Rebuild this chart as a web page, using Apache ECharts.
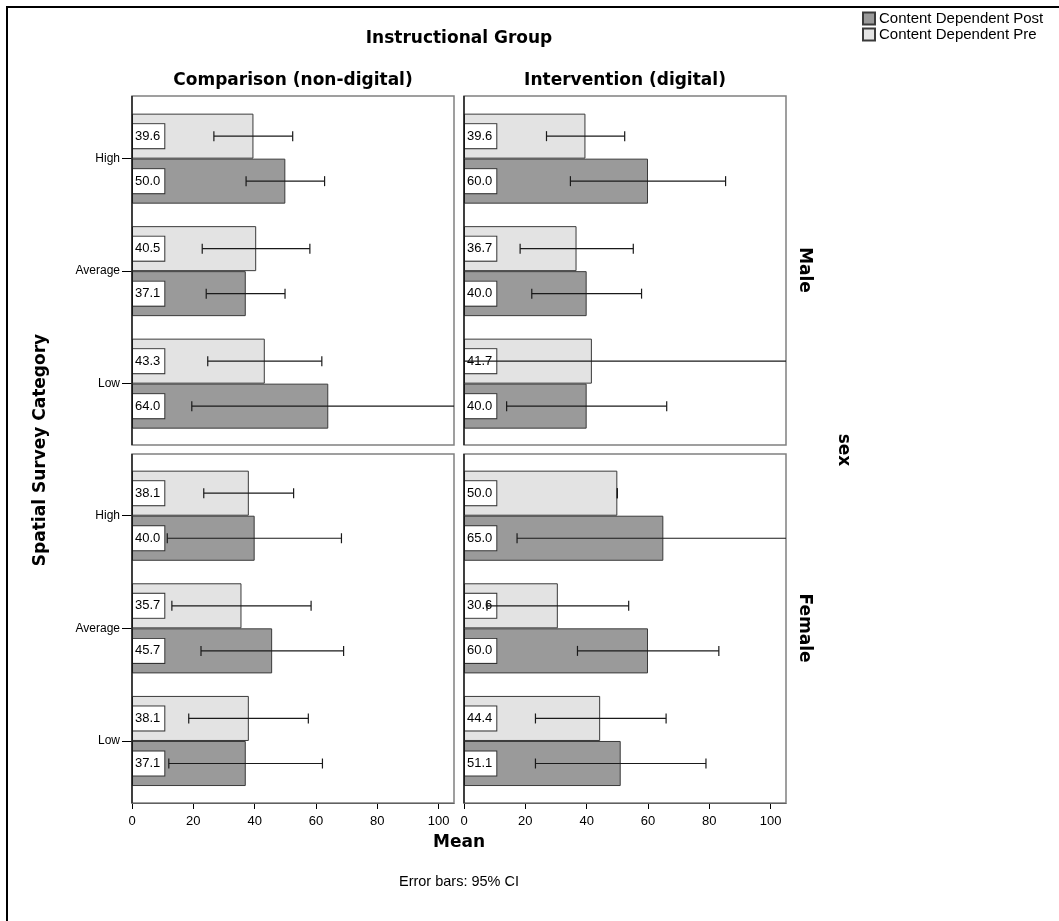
<!DOCTYPE html>
<html>
<head>
<meta charset="utf-8">
<script src="https://cdn.jsdelivr.net/npm/echarts@6.0.0/dist/echarts.min.js"></script>
<style>
html,body{margin:0;padding:0;background:#fff;}
#chart{width:1059px;height:921px;}
</style>
</head>
<body>
<div id="chart"></div>
<script>
// ---- data ----
const categories = ['High', 'Average', 'Low'];
const xTicks = [0, 20, 40, 60, 80, 100];
const seriesNames = ['Content Dependent Post', 'Content Dependent Pre'];
const columnTitles = ['Comparison (non-digital)', 'Intervention (digital)'];
const rowTitles = ['Male', 'Female'];

// means (High, Average, Low)
const preMaleComp = [39.6, 40.5, 43.3];
const postMaleComp = [50.0, 37.1, 64.0];
const preMaleInt = [39.6, 36.7, 41.7];
const postMaleInt = [60.0, 40.0, 40.0];
const preFemComp = [38.1, 35.7, 38.1];
const postFemComp = [40.0, 45.7, 37.1];
const preFemInt = [50.0, 30.6, 44.4];
const postFemInt = [65.0, 60.0, 51.1];

// 95% CI [lower, upper] (High, Average, Low)
const ciPreMaleComp = [[26.7, 52.4], [22.9, 58.0], [24.7, 61.9]];
const ciPostMaleComp = [[37.2, 62.8], [24.2, 49.9], [19.5, 108.5]];
const ciPreMaleInt = [[26.9, 52.4], [18.3, 55.2], [-24.3, 107.7]];
const ciPostMaleInt = [[34.7, 85.3], [22.1, 57.9], [13.9, 66.1]];
const ciPreFemComp = [[23.4, 52.7], [13.0, 58.4], [18.5, 57.5]];
const ciPostFemComp = [[11.5, 68.3], [22.5, 69.0], [12.0, 62.1]];
const ciPreFemInt = [[50.0, 50.0], [7.5, 53.7], [23.3, 65.9]];
const ciPostFemInt = [[17.3, 112.7], [37.0, 83.1], [23.3, 78.9]];

// ---- layout ----
const REG = 'Liberation Sans, Arial, sans-serif';
const BOLD = 'DejaVu Sans, sans-serif';
const PRE_COLOR = '#e3e3e3', POST_COLOR = '#9a9a9a', EDGE = '#3a3a3a';
const colX = [{left: 132, width: 322}, {left: 464, width: 322}];
const rowY = [{frameTop: 96, frameBottom: 445, top: 102.4, height: 337.5},
              {frameTop: 454, frameBottom: 803, top: 459.4, height: 337.9}];

const panels = [
  {row: 0, col: 0, pre: preMaleComp, post: postMaleComp, ciPre: ciPreMaleComp, ciPost: ciPostMaleComp},
  {row: 0, col: 1, pre: preMaleInt, post: postMaleInt, ciPre: ciPreMaleInt, ciPost: ciPostMaleInt},
  {row: 1, col: 0, pre: preFemComp, post: postFemComp, ciPre: ciPreFemComp, ciPost: ciPostFemComp},
  {row: 1, col: 1, pre: preFemInt, post: postFemInt, ciPre: ciPreFemInt, ciPost: ciPostFemInt}
];

const grids = [], xAxes = [], yAxes = [], series = [], graphics = [];

function errRender(params, api) {
  const lo = api.value(0), hi = api.value(1), cat = api.value(2), which = api.value(3);
  const c = api.coord([0, cat]);
  const band = Math.abs(api.size([0, 1])[1]);
  const y = c[1] + (which === 0 ? -1 : 1) * band * 0.2;
  const cs = params.coordSys;
  const minX = cs.x, maxX = cs.x + cs.width;
  const x1 = api.coord([lo, cat])[0], x2 = api.coord([hi, cat])[0];
  const cx1 = Math.max(minX, Math.min(maxX, x1)), cx2 = Math.max(minX, Math.min(maxX, x2));
  const st = {stroke: '#1a1a1a', lineWidth: 1.2};
  const ch = [{type: 'line', shape: {x1: cx1, y1: y, x2: cx2, y2: y}, style: st}];
  const capH = 5;
  if (x1 >= minX && x1 <= maxX) ch.push({type: 'line', shape: {x1: x1, y1: y - capH, x2: x1, y2: y + capH}, style: st});
  if (x2 >= minX && x2 <= maxX) ch.push({type: 'line', shape: {x1: x2, y1: y - capH, x2: x2, y2: y + capH}, style: st});
  return {type: 'group', children: ch};
}

const labelCfg = {
  show: true, position: 'insideLeft', distance: 1,
  formatter: p => Number(p.value).toFixed(1),
  fontFamily: REG, fontSize: 13, color: '#000',
  backgroundColor: '#fff', borderColor: '#333', borderWidth: 1,
  padding: [6, 4, 5, 2]
};

panels.forEach((p, i) => {
  const cx = colX[p.col], ry = rowY[p.row];
  grids.push({left: cx.left, top: ry.top, width: cx.width, height: ry.height, containLabel: false});
  const isBottom = p.row === 1;
  xAxes.push({
    type: 'value', gridIndex: i, min: 0, max: 105, interval: 20,
    offset: isBottom ? (ry.frameBottom - ry.top - ry.height) : 0,
    axisLine: {show: isBottom, lineStyle: {color: '#000', width: 1}},
    axisTick: {show: isBottom, length: 6, lineStyle: {color: '#000'}, customValues: xTicks},
    axisLabel: {show: isBottom, customValues: xTicks, fontFamily: REG, fontSize: 13, color: '#000', margin: 12},
    splitLine: {show: false}
  });
  yAxes.push({
    type: 'category', gridIndex: i, data: categories, inverse: true,
    axisLine: {show: false},
    axisTick: {show: p.col === 0, alignWithLabel: true, length: 10, lineStyle: {color: '#000'}},
    axisLabel: {show: p.col === 0, fontFamily: REG, fontSize: 12, color: '#000', margin: 12},
    splitLine: {show: false}
  });
  series.push({
    name: seriesNames[1], type: 'bar', xAxisIndex: i, yAxisIndex: i, data: p.pre,
    barCategoryGap: '20%', barGap: '0%',
    itemStyle: {color: PRE_COLOR, borderColor: EDGE, borderWidth: 1},
    label: labelCfg, z: 2, animation: false
  });
  series.push({
    name: seriesNames[0], type: 'bar', xAxisIndex: i, yAxisIndex: i, data: p.post,
    barCategoryGap: '20%', barGap: '0%',
    itemStyle: {color: POST_COLOR, borderColor: EDGE, borderWidth: 1},
    label: labelCfg, z: 2, animation: false
  });
  const errData = [];
  p.ciPre.forEach((ci, k) => errData.push([ci[0], ci[1], k, 0]));
  p.ciPost.forEach((ci, k) => errData.push([ci[0], ci[1], k, 1]));
  series.push({
    type: 'custom', xAxisIndex: i, yAxisIndex: i, data: errData,
    encode: {x: [0, 1], y: 2}, renderItem: errRender, z: 10, silent: true, animation: false
  });
  // panel frame
  graphics.push({type: 'rect', shape: {x: cx.left, y: ry.frameTop, width: cx.width, height: ry.frameBottom - ry.frameTop},
    style: {fill: 'none', stroke: '#808080', lineWidth: 1.5}, z: 1, silent: true});
  graphics.push({type: 'line', shape: {x1: cx.left, y1: ry.frameTop, x2: cx.left, y2: ry.frameBottom},
    style: {stroke: '#000', lineWidth: 1.2}, z: 20, silent: true});
});

// texts
function txt(text, x, y, font, size, weight, rot) {
  return {type: 'text', x: x, y: y, rotation: rot || 0, silent: true, z: 30,
    style: {text: text, fontFamily: font, fontSize: size, fontWeight: weight, fill: '#000', align: 'center', verticalAlign: 'middle'}};
}
graphics.push({type: 'rect', shape: {x: 7, y: 7, width: 1200, height: 1000}, style: {fill: 'none', stroke: '#000', lineWidth: 2}, silent: true, z: 0});
graphics.push(txt('Instructional Group', 459, 39, BOLD, 17, 'bold'));
graphics.push(txt(columnTitles[0], 293, 81, BOLD, 17, 'bold'));
graphics.push(txt(columnTitles[1], 625, 81, BOLD, 17, 'bold'));
graphics.push(txt(rowTitles[0], 804, 270, BOLD, 17, 'bold', -Math.PI / 2));
graphics.push(txt(rowTitles[1], 804, 628, BOLD, 17, 'bold', -Math.PI / 2));
graphics.push(txt('sex', 843, 450, BOLD, 17, 'bold', -Math.PI / 2));
graphics.push(txt('Spatial Survey Category', 41, 450, BOLD, 17, 'bold', Math.PI / 2));
graphics.push(txt('Mean', 459, 843, BOLD, 17, 'bold'));
graphics.push(txt('Error bars: 95% CI', 459, 882, REG, 14.5, 'normal'));

const chart = echarts.init(document.getElementById('chart'), null, {renderer: 'canvas'});
chart.setOption({
  backgroundColor: '#fff',
  animation: false,
  legend: {
    data: seriesNames, orient: 'vertical', left: 857, top: 6, padding: 5,
    icon: 'rect', itemWidth: 12, itemHeight: 12, itemGap: 1,
    textStyle: {fontFamily: REG, fontSize: 15, color: '#000', padding: [0, 0, 0, -1]}
  },
  grid: grids, xAxis: xAxes, yAxis: yAxes, series: series,
  graphic: graphics
});
</script>
</body>
</html>
